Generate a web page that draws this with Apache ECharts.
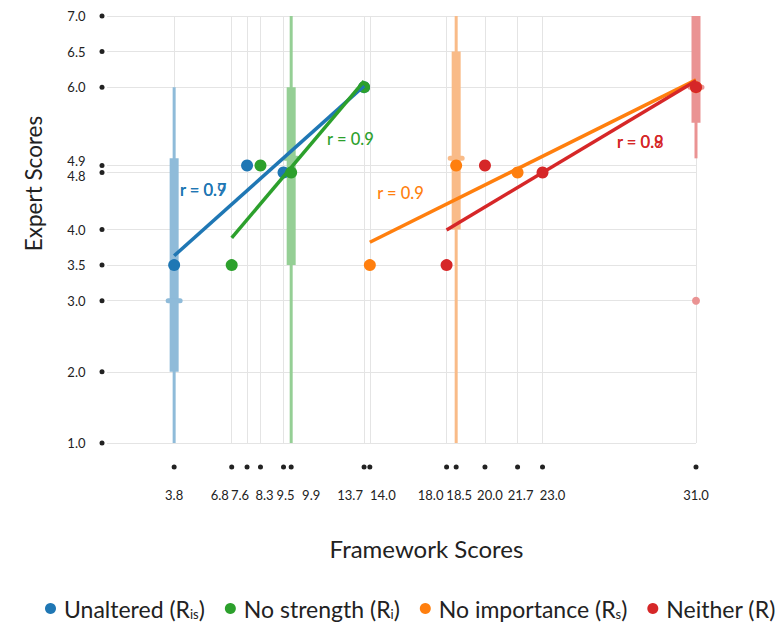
<!DOCTYPE html>
<html><head><meta charset="utf-8">
<script src="https://cdn.jsdelivr.net/npm/echarts@6/dist/echarts.min.js"></script>
<style>html,body{margin:0;padding:0;background:#fff}#c{width:782px;height:626px}</style>
</head><body><div id="c"></div>
<script>
// ---- data ----
const groupNames = ['Unaltered', 'No strength', 'No importance', 'Neither'];
const groupSubs = ['is', 'i', 's', ''];
const expertScores = [3.5, 4.9, 4.8, 6.0];
const unalteredX = [3.8, 7.6, 9.5, 13.7];
const noStrengthX = [6.8, 8.3, 9.9, 13.7];
const noImportanceX = [14.0, 18.5, 21.7, 31.0];
const neitherX = [18.0, 20.0, 23.0, 31.0];
// box stats: [x, whiskerLow, boxLow, median, boxHigh, whiskerHigh]
const unalteredBox = [3.8, 1.0, 2.0, 3.0, 5.0, 6.0];
const noStrengthBox = [9.9, 1.0, 3.5, 5.0, 6.0, 7.0];
const noImportanceBox = [18.5, 1.0, 4.0, 5.0, 6.5, 7.0];
const neitherBox = [31.0, 5.0, 5.5, 6.0, 7.0, 7.0];
const unalteredOutliers = [];
const noStrengthOutliers = [];
const noImportanceOutliers = [];
const neitherOutliers = [3.0];
const rTexts = [['r = 0.9', 'r = 0.7'], ['r = 0.9'], ['r = 0.9'], ['r = 0.9', 'r = 0.8']];
const rAnchors = [[4.1, 4.55], [11.77, 5.27], [14.38, 4.51], [26.88, 5.23]];
const xTicks = [3.8, 6.8, 7.6, 8.3, 9.5, 9.9, 13.7, 14.0, 18.0, 18.5, 20.0, 21.7, 23.0, 31.0];
const yTicks = [1.0, 2.0, 3.0, 3.5, 4.0, 4.8, 4.9, 6.0, 6.5, 7.0];

// ---- styling ----
const colors = ['#1f77b4', '#2ca02c', '#ff7f0e', '#d62728'];
const lightColors = ['#8fbbd9', '#95cf95', '#f9bb88', '#ea9393'];
const xLabelNudge = [0, -12, -7, 4, 2, 20, -14, 13, -16, 3, 5, 3, 10, 0];
const yLabelNudge = { '4.9': -4, '4.8': 3 };
const FONT = 'Lato, "Open Sans", sans-serif';

const xs = [unalteredX, noStrengthX, noImportanceX, neitherX];
const boxes = [unalteredBox, noStrengthBox, noImportanceBox, neitherBox];
const outl = [unalteredOutliers, noStrengthOutliers, noImportanceOutliers, neitherOutliers];

function fit(x, y) {
  const n = x.length;
  const mx = x.reduce((a, b) => a + b, 0) / n, my = y.reduce((a, b) => a + b, 0) / n;
  let sxy = 0, sxx = 0;
  for (let i = 0; i < n; i++) { sxy += (x[i] - mx) * (y[i] - my); sxx += (x[i] - mx) ** 2; }
  const b = sxy / sxx, a = my - b * mx;
  const lo = Math.min(...x), hi = Math.max(...x);
  return [[lo, a + b * lo], [hi, a + b * hi]];
}

const xRich = { d: { width: 5, height: 5, backgroundColor: '#222', borderRadius: 2.5, lineHeight: 6, align: 'center' } };
xTicks.forEach((t, i) => {
  const s = xLabelNudge[i];
  xRich['t' + i] = {
    fontSize: 13, color: '#222', fontFamily: FONT, lineHeight: 50, align: 'center',
    padding: s >= 0 ? [0, 0, 0, 2 * s] : [0, -2 * s, 0, 0]
  };
});
const yRich = {
  t: { fontSize: 13, color: '#222', fontFamily: FONT, align: 'right' },
  g: { width: 14, align: 'right' },
  d: { width: 5, height: 5, backgroundColor: '#222', borderRadius: 2.5, align: 'right' }
};
Object.keys(yLabelNudge).forEach(k => {
  const s = yLabelNudge[k];
  yRich['n' + k.replace('.', '_')] = {
    fontSize: 13, lineHeight: 10, color: '#222', fontFamily: FONT, align: 'right',
    padding: s < 0 ? [0, 0, -2 * s, 0] : [2 * s, 0, 0, 0]
  };
});

const series = [];
groupNames.forEach((name, g) => {
  const b = boxes[g];
  series.push({
    type: 'custom', name, z: 1, silent: true,
    itemStyle: { color: colors[g] },
    data: [b],
    renderItem: (params, api) => {
      const x = api.value(0);
      const wl = api.coord([x, api.value(1)]), bl = api.coord([x, api.value(2)]);
      const md = api.coord([x, api.value(3)]), bh = api.coord([x, api.value(4)]), wh = api.coord([x, api.value(5)]);
      const fill = lightColors[g];
      const children = [
        { type: 'rect', shape: { x: wl[0] - 1.5, y: wh[1], width: 3, height: wl[1] - wh[1] }, style: { fill } },
        { type: 'rect', shape: { x: bl[0] - 4.5, y: bh[1], width: 9, height: bl[1] - bh[1] }, style: { fill } },
        { type: 'rect', shape: { x: md[0] - 8.5, y: md[1] - 2.5, width: 17, height: 5, r: 2.5 }, style: { fill } }
      ];
      outl[g].forEach(v => {
        const p = api.coord([x, v]);
        children.push({ type: 'circle', shape: { cx: p[0], cy: p[1], r: 4 }, style: { fill } });
      });
      return { type: 'group', children };
    }
  });
});
groupNames.forEach((name, g) => {
  series.push({
    type: 'scatter', name, z: 2, symbolSize: 12,
    itemStyle: { color: colors[g], opacity: 1 },
    data: xs[g].map((x, i) => [x, expertScores[i]])
  });
});
groupNames.forEach((name, g) => {
  series.push({
    type: 'line', name, z: 3, symbol: 'none', silent: true,
    lineStyle: { color: colors[g], width: 3.5 }, itemStyle: { color: colors[g] },
    data: fit(xs[g], expertScores)
  });
});
groupNames.forEach((name, g) => {
  series.push({
    type: 'custom', name, z: 4, silent: true,
    itemStyle: { color: colors[g] },
    data: rTexts[g].map(t => [rAnchors[g][0], rAnchors[g][1], t]),
    renderItem: (params, api) => {
      const p = api.coord([api.value(0), api.value(1)]);
      return {
        type: 'text', x: p[0], y: p[1],
        style: { text: rTexts[g][params.dataIndex], fill: colors[g], font: '500 16.5px ' + FONT, textAlign: 'left', textVerticalAlign: 'middle' }
      };
    }
  });
});

const chart = echarts.init(document.getElementById('c'), null, { renderer: 'svg' });
chart.setOption({
  animation: false,
  backgroundColor: '#fff',
  color: colors,
  textStyle: { fontFamily: FONT },
  grid: { left: 107, right: 86, top: 16, bottom: 183, containLabel: false },
  xAxis: {
    type: 'value', min: 0.3, max: 31,
    name: 'Framework Scores', nameLocation: 'middle', nameGap: 93,
    nameTextStyle: { fontSize: 24, color: '#222', fontFamily: FONT, padding: [0, 0, 0, 50] },
    axisLine: { show: false },
    axisTick: { show: false, customValues: xTicks },
    axisLabel: {
      customValues: xTicks, margin: 21, rich: xRich, hideOverlap: false,
      formatter: (v) => {
        const i = xTicks.findIndex(t => Math.abs(t - v) < 1e-6);
        return '{d|}\n{t' + i + '|' + xTicks[i].toFixed(1) + '}';
      }
    },
    splitLine: { show: true, lineStyle: { color: '#e4e4e4', width: 1 } }
  },
  yAxis: {
    type: 'value', min: 1, max: 7,
    name: 'Expert Scores', nameLocation: 'middle', nameGap: 62,
    nameTextStyle: { fontSize: 22.5, color: '#222', fontFamily: FONT, padding: [0, 0, 0, 92] },
    axisLine: { show: false },
    axisTick: { show: false, customValues: yTicks },
    axisLabel: {
      customValues: yTicks, margin: 2.5, hideOverlap: false,
      rich: yRich,
      formatter: (v) => {
        const s = v.toFixed(1);
        const key = (s in yLabelNudge) ? 'n' + s.replace('.', '_') : 't';
        return '{' + key + '|' + s + '}{g|}{d|}';
      }
    },
    splitLine: { show: true, lineStyle: { color: '#e4e4e4', width: 1 } }
  },
  legend: {
    data: groupNames, left: 40, top: 592, width: 742, orient: 'horizontal',
    icon: 'circle', itemWidth: 11, itemHeight: 11, itemGap: 20,
    selectedMode: false,
    formatter: (name) => {
      const sub = groupSubs[groupNames.indexOf(name)];
      return name + ' ({m|R}' + (sub ? '{s|' + sub + '}' : '') + ')';
    },
    textStyle: {
      fontSize: 23, color: '#222', fontFamily: FONT, padding: [0, 0, 0, 3],
      rich: { m: { fontSize: 23, color: '#222', fontFamily: FONT }, s: { fontSize: 13, color: '#222', fontFamily: FONT, verticalAlign: 'bottom' } }
    }
  },
  series
});
</script></body></html>
